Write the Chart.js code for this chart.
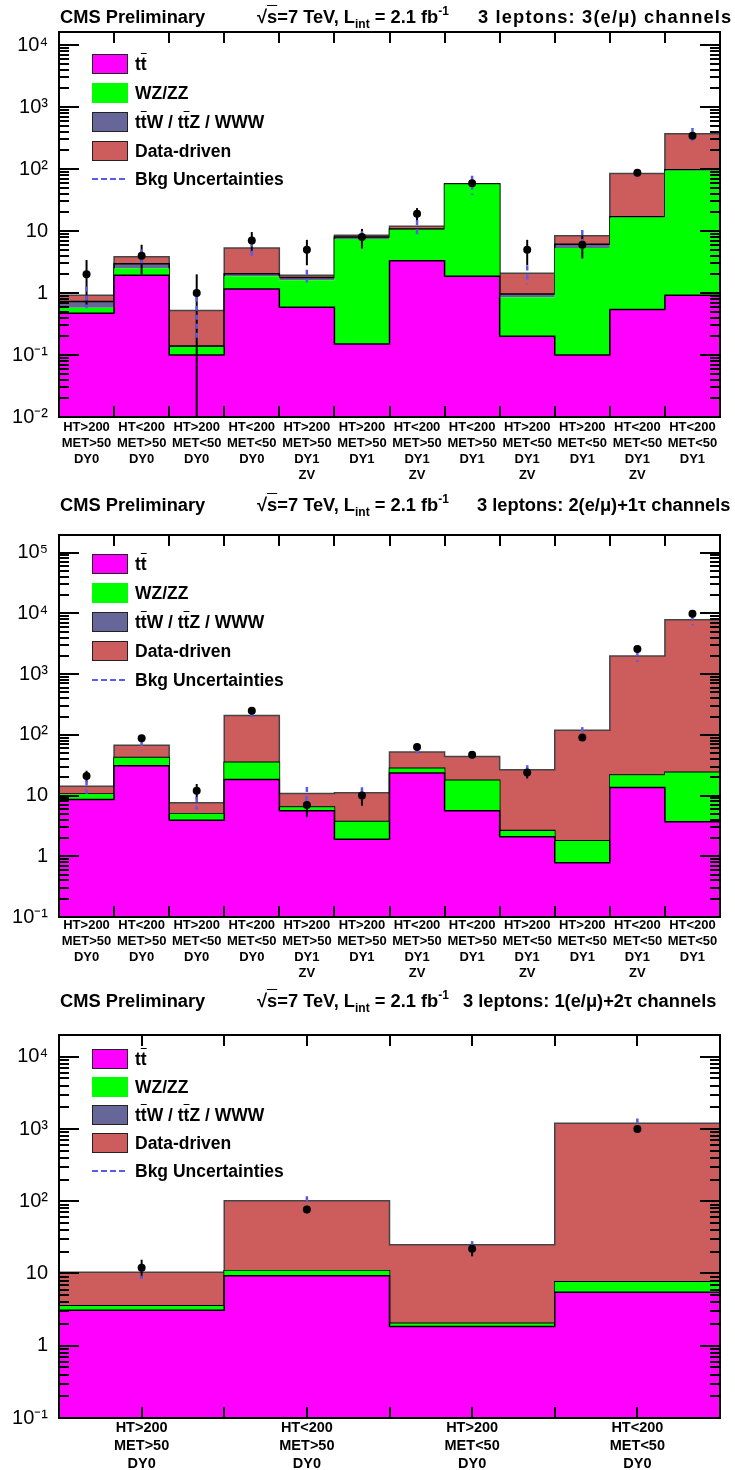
<!DOCTYPE html>
<html>
<head>
<meta charset="utf-8">
<script src="https://cdn.jsdelivr.net/npm/chart.js@4.4.0/dist/chart.umd.min.js"></script>
<style>
  html, body { margin: 0; padding: 0; background: #fff; }
  body { width: 735px; height: 1470px; position: relative; overflow: hidden;
         font-family: "Liberation Sans", Arial, sans-serif; color: #000; }
  canvas { position: absolute; left: 0; }
  .title { position: absolute; font-weight: bold; font-size: 18.3px; line-height: 20px; white-space: nowrap; }
  .title sub { font-size: 12px; vertical-align: -5px; line-height: 0; }
  .title sup { font-size: 12px; vertical-align: 8px; line-height: 0; }
  .ov { text-decoration: overline; }
  .box { position: absolute; left: 92px; width: 36px; height: 20px; box-sizing: border-box; }
  .lab { position: absolute; left: 135px; font-weight: bold; font-size: 17.5px; line-height: 20px; white-space: nowrap; }
  .dash { position: absolute; left: 92px; width: 33px; height: 0; border-top: 2.5px dashed #5b5bea; }
</style>
</head>
<body>
<canvas id="c1" width="735" height="480" style="top:0px"></canvas>
<canvas id="c2" width="735" height="505" style="top:480px"></canvas>
<canvas id="c3" width="735" height="495" style="top:975px"></canvas>

<script>
const cats12 = [
  ['HT>200', 'MET>50', 'DY0'], ['HT<200', 'MET>50', 'DY0'], ['HT>200', 'MET<50', 'DY0'], ['HT<200', 'MET<50', 'DY0'],
  ['HT>200', 'MET>50', 'DY1', 'ZV'], ['HT>200', 'MET>50', 'DY1'], ['HT<200', 'MET>50', 'DY1', 'ZV'], ['HT<200', 'MET>50', 'DY1'],
  ['HT>200', 'MET<50', 'DY1', 'ZV'], ['HT>200', 'MET<50', 'DY1'], ['HT<200', 'MET<50', 'DY1', 'ZV'], ['HT<200', 'MET<50', 'DY1']
];
const cats4 = [['HT>200', 'MET>50', 'DY0'], ['HT<200', 'MET>50', 'DY0'], ['HT>200', 'MET<50', 'DY0'], ['HT<200', 'MET<50', 'DY0']];

// 3(e/mu) channels
const tt1 = [0.47, 1.94, 0.10, 1.16, 0.59, 0.15, 3.3, 1.86, 0.20, 0.10, 0.54, 0.92];
const wz1 = [0.11, 0.56, 0.035, 0.71, 1.01, 7.25, 7.2, 55, 0.65, 5.2, 16, 94];
const ttw1 = [0.15, 0.45, 0.005, 0.18, 0.18, 0.6, 0.3, 0.5, 0.11, 0.8, 0.4, 2];
const dd1 = [0.19, 0.91, 0.38, 3.25, 0.15, 0.5, 1.1, 0.6, 1.12, 2.3, 68, 273];
const data1 = [2, 4, 1, 7, 5, 8, 19, 59, 5, 6, 87, 345];
const dataErr1 = [1.4, 2.0, 1.0, 2.6, 2.2, 2.8, 4.4, 7.7, 2.2, 2.4, 9.3, 18.6];
const bkgErr1 = [0.35, 1.2, 0.35, 1.4, 0.45, 1.5, 3, 20, 0.7, 2, 15, 90];

// 2(e/mu)+1tau channels
const tt2 = [8.6, 31, 3.9, 18.4, 5.6, 1.9, 23.6, 5.6, 2.1, 0.78, 13.5, 3.7];
const wz2 = [2.0, 11, 1.1, 16.6, 0.8, 1.8, 4.4, 12.1, 0.5, 1.0, 8.1, 20.3];
const ttw2 = [0.05, 0.2, 0.02, 0.3, 0.05, 0.05, 0.2, 0.1, 0.05, 0.02, 0.2, 0.2];
const dd2 = [3.6, 25, 2.6, 173, 4.4, 7.4, 24, 26, 24, 117, 1960, 7850];
const data2 = [21, 88, 12, 250, 7, 10, 63, 47, 24, 90, 2580, 9880];
const dataErr2 = [4.6, 9.4, 3.5, 15.8, 2.6, 3.2, 7.9, 6.9, 4.9, 9.5, 51, 99];
const bkgErr2 = [3.5, 12, 1.8, 25, 3, 2.5, 7, 4, 5, 15, 400, 1500];

// 1(e/mu)+2tau channels
const tt3 = [3.1, 9.3, 1.84, 5.5];
const wz3 = [0.45, 1.6, 0.2, 2.15];
const ttw3 = [0.02, 0.05, 0.01, 0.05];
const dd3 = [6.8, 91, 23, 1190];
const data3 = [12, 77, 22, 1000];
const dataErr3 = [3.5, 8.8, 4.7, 32];
const bkgErr3 = [2, 15, 3, 200];

const FONT = "'Liberation Sans', Arial, sans-serif";
Chart.defaults.font.family = FONT;

const supDigits = {'-': '\u207b', '0': '\u2070', '1': '\u00b9', '2': '\u00b2', '3': '\u00b3', '4': '\u2074', '5': '\u2075'};
function logLabel(v) {
  const e = Math.round(Math.log10(v));
  if (e === 0) return '1';
  if (e === 1) return '10';
  return '10' + String(e).split('').map(c => supDigits[c]).join('');
}

function steps(vals) {
  return vals.map((v, i) => ({x: i, y: v})).concat([{x: vals.length, y: vals[vals.length - 1]}]);
}

function makePanel(id, o) {
  const n = o.cats.length;
  const c0 = o.tt;
  const c1 = c0.map((v, i) => v + o.wz[i]);
  const c2 = c1.map((v, i) => v + o.ttw[i]);
  const c3 = c2.map((v, i) => v + o.dd[i]);

  const layer = (vals, fill, bg, border, bw) => ({
    data: steps(vals), fill: fill, backgroundColor: bg, borderColor: border, borderWidth: bw,
    stepped: true, pointRadius: 0, tension: 0, order: 1
  });

  const deco = {
    id: 'deco' + id,
    beforeDatasetDraw(chart, args) {
      if (args.index !== 0) return;
      const {ctx, scales: {x, y}} = chart;
      ctx.save();
      ctx.strokeStyle = '#000';
      ctx.lineWidth = 2;
      o.data.forEach((v, i) => {
        const px = x.getPixelForValue(i + 0.5);
        ctx.beginPath();
        ctx.moveTo(px, y.getPixelForValue(v + o.dataErr[i]));
        ctx.lineTo(px, y.getPixelForValue(Math.max(v - o.dataErr[i], y.min)));
        ctx.stroke();
      });
      ctx.strokeStyle = '#5b5bea';
      ctx.lineWidth = 2.5;
      ctx.setLineDash([5, 4]);
      c3.forEach((t, i) => {
        const px = x.getPixelForValue(i + 0.5);
        ctx.beginPath();
        ctx.moveTo(px, y.getPixelForValue(t + o.bkgErr[i]));
        ctx.lineTo(px, y.getPixelForValue(Math.max(t - o.bkgErr[i], y.min)));
        ctx.stroke();
      });
      ctx.restore();
    },
    afterDraw(chart) {
      const {ctx, chartArea: a, scales: {x, y}} = chart;
      ctx.save();
      ctx.strokeStyle = '#000';
      ctx.lineWidth = 2;
      ctx.beginPath();
      for (let e = Math.floor(Math.log10(y.min)); e <= Math.ceil(Math.log10(y.max)); e++) {
        for (let m = 1; m <= 9; m++) {
          const v = m * Math.pow(10, e);
          if (v < y.min * 0.999 || v > y.max) continue;
          const py = Math.round(y.getPixelForValue(v));
          const len = m === 1 ? 20 : 10;
          ctx.moveTo(a.left, py); ctx.lineTo(a.left + len, py);
          ctx.moveTo(a.right, py); ctx.lineTo(a.right - len, py);
        }
      }
      for (let t = o.tickStep; t < n - 1e-6; t += o.tickStep) {
        const px = Math.round(x.getPixelForValue(t));
        ctx.moveTo(px, a.top); ctx.lineTo(px, a.top + 11);
        ctx.moveTo(px, a.bottom); ctx.lineTo(px, a.bottom - 11);
      }
      ctx.stroke();
      ctx.strokeRect(a.left, a.top, a.right - a.left, a.bottom - a.top);
      ctx.restore();
    }
  };

  return new Chart(document.getElementById(id), {
    type: 'line',
    data: {
      datasets: [
        {
          data: o.data.map((v, i) => ({x: i + 0.5, y: v})), showLine: false, fill: false,
          pointRadius: 4, pointBackgroundColor: '#000', pointBorderColor: '#000', pointBorderWidth: 0, order: 0
        },
        layer(c0, 'start', '#ff00ff', '#000', 1.5),
        layer(c1, '-1', '#00ff00', '#00ff00', 0),
        layer(c2, '-1', '#666699', '#000', 1.5),
        layer(c3, '-1', '#cd5c5c', '#444', 1.5)
      ]
    },
    options: {
      responsive: false,
      animation: false,
      layout: {padding: {top: o.padTop, right: 15, left: 0, bottom: 0}},
      plugins: {legend: {display: false}, tooltip: {enabled: false}},
      scales: {
        x: {
          type: 'linear', min: 0, max: n,
          grid: {display: false}, border: {display: false},
          afterBuildTicks: s => { s.ticks = o.cats.map((c, i) => ({value: i + 0.5})); },
          afterFit: s => { s.height = o.xHeight; },
          ticks: {
            autoSkip: false, maxRotation: 0, padding: o.xPad, color: '#000',
            font: {size: o.xFont, weight: 'bold', lineHeight: o.xLine},
            callback: v => o.cats[Math.floor(v)]
          }
        },
        y: {
          type: 'logarithmic', min: o.yMin, max: o.yMax,
          grid: {display: false}, border: {display: false},
          afterBuildTicks: s => {
            const t = [];
            for (let e = -2; e <= 6; e++) {
              const v = Math.pow(10, e);
              if (v >= o.yMin * 0.999 && v <= o.yMax) t.push({value: v});
            }
            s.ticks = t;
          },
          afterFit: s => { s.width = 59; },
          ticks: {padding: 3, color: '#000', font: {size: 20}, callback: v => logLabel(v)}
        }
      }
    },
    plugins: [deco]
  });
}

makePanel('c1', {cats: cats12, tt: tt1, wz: wz1, ttw: ttw1, dd: dd1, data: data1, dataErr: dataErr1, bkgErr: bkgErr1,
  yMin: 0.01, yMax: 16200, padTop: 32, xHeight: 63, xPad: -6, xFont: 13, xLine: '16px', tickStep: 1});
makePanel('c2', {cats: cats12, tt: tt2, wz: wz2, ttw: ttw2, dd: dd2, data: data2, dataErr: dataErr2, bkgErr: bkgErr2,
  yMin: 0.1, yMax: 195000, padTop: 55, xHeight: 68, xPad: -8, xFont: 13, xLine: '16px', tickStep: 1});
makePanel('c3', {cats: cats4, tt: tt3, wz: wz3, ttw: ttw3, dd: dd3, data: data3, dataErr: dataErr3, bkgErr: bkgErr3,
  yMin: 0.1, yMax: 20000, padTop: 60, xHeight: 52, xPad: -7, xFont: 14.5, xLine: '18px', tickStep: 0.5});

// titles and legends
const titles = [
  {top: 7, third: '3 leptons: 3(e/&mu;) channels', x3: 478, ls: 1.15},
  {top: 495, third: '3 leptons: 2(e/&mu;)+1&tau; channels', x3: 477, ls: 0},
  {top: 991, third: '3 leptons: 1(e/&mu;)+2&tau; channels', x3: 463, ls: 0}
];
titles.forEach(t => {
  const html = [
    '<div class="title" style="left:60px;top:' + t.top + 'px">CMS Preliminary</div>',
    '<div class="title" style="left:257px;top:' + t.top + 'px">&radic;<span class="ov">s</span>=7 TeV, L<sub>int</sub> = 2.1 fb<sup>-1</sup></div>',
    '<div class="title" style="left:' + t.x3 + 'px;top:' + t.top + 'px;letter-spacing:' + t.ls + 'px">' + t.third + '</div>'
  ].join('');
  document.body.insertAdjacentHTML('beforeend', html);
});

const legendRows = [
  {label: 't<span class="ov">t</span>', style: 'background:#ff00ff;border:1.5px solid #222'},
  {label: 'WZ/ZZ', style: 'background:#00ff00'},
  {label: 't<span class="ov">t</span>W / t<span class="ov">t</span>Z / WWW', style: 'background:#666699;border:1.5px solid #222'},
  {label: 'Data-driven', style: 'background:#cd5c5c;border:1.5px solid #222'}
];
const legends = [{top: 54, gap: 29, dash: 125}, {top: 554, gap: 29, dash: 126}, {top: 1049, gap: 28, dash: 122}];
legends.forEach(l => {
  let html = '';
  legendRows.forEach((r, i) => {
    const y = l.top + i * l.gap;
    html += '<div class="box" style="top:' + y + 'px;' + r.style + '"></div>';
    html += '<div class="lab" style="top:' + y + 'px">' + r.label + '</div>';
  });
  html += '<div class="dash" style="top:' + (l.top + l.dash - 1) + 'px"></div>';
  html += '<div class="lab" style="top:' + (l.top + l.dash - 10) + 'px">Bkg Uncertainties</div>';
  document.body.insertAdjacentHTML('beforeend', html);
});
</script>
</body>
</html>
